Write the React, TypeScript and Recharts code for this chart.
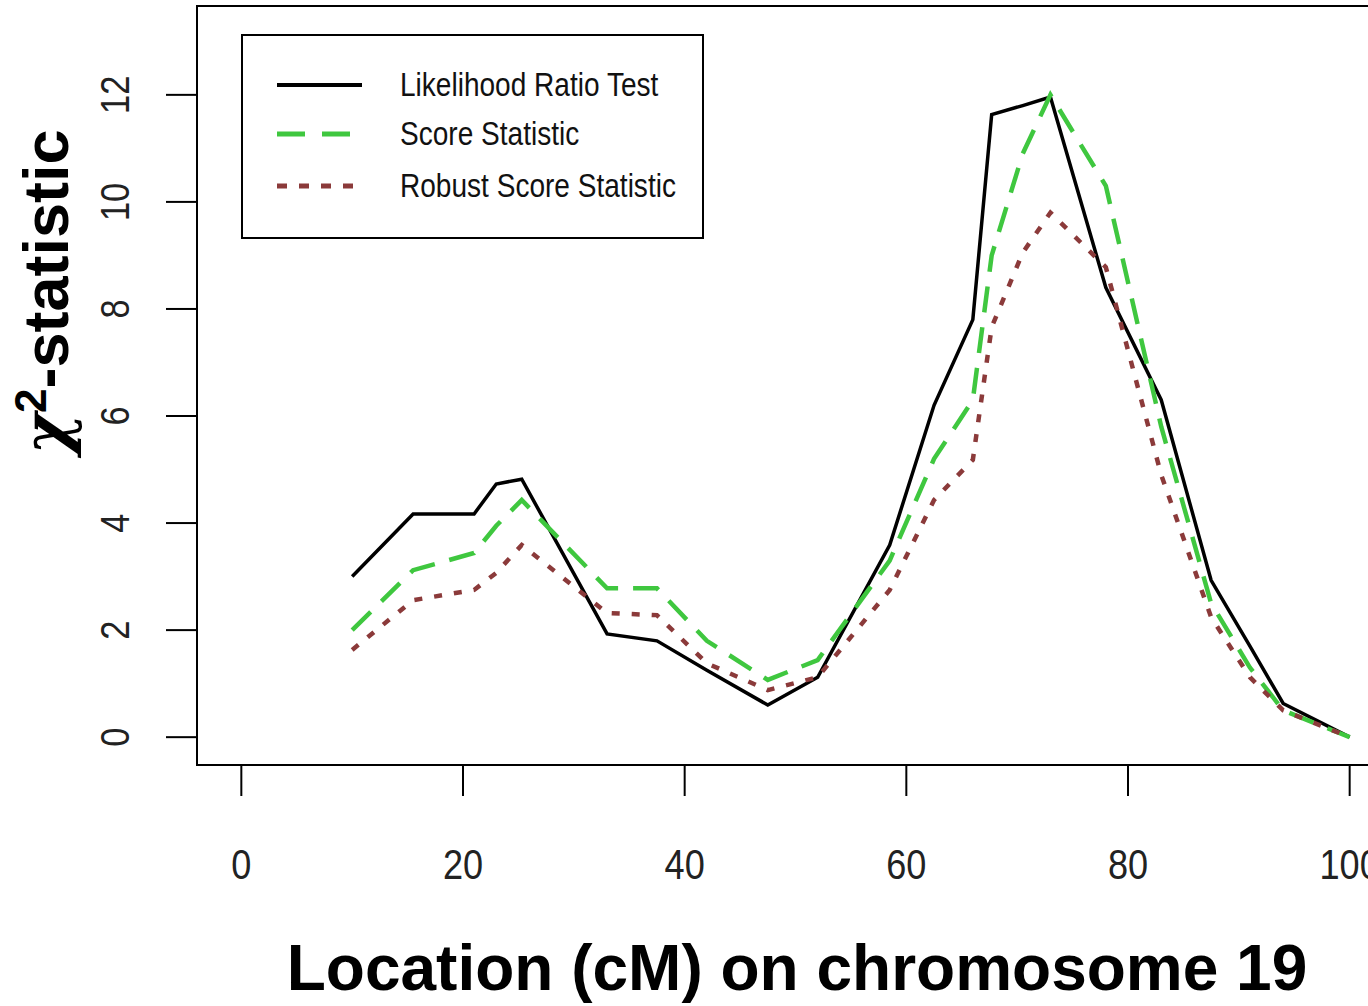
import React from "react";
import { LineChart, Line, XAxis, YAxis, ReferenceArea, Legend, Label } from "recharts";

// location on chromosome 19 (cM)
const locations = [10, 15.5, 21, 23, 25.3, 33, 37.5, 42, 47.5, 52, 58.5, 62.5, 66, 67.7, 70.5, 73, 78, 83, 87.5, 91, 94, 100];
const lrtValues = [3.0, 4.17, 4.17, 4.73, 4.82, 1.93, 1.8, 1.25, 0.6, 1.12, 3.59, 6.2, 7.8, 11.63, 11.8, 11.96, 8.4, 6.3, 2.93, 1.7, 0.63, 0];
const scoreValues = [2.0, 3.12, 3.44, 3.95, 4.43, 2.78, 2.78, 1.8, 1.07, 1.44, 3.3, 5.2, 6.3, 9.0, 10.9, 12.0, 10.3, 5.8, 2.5, 1.3, 0.5, 0];
const robustValues = [1.63, 2.56, 2.75, 3.07, 3.59, 2.32, 2.28, 1.38, 0.88, 1.12, 2.75, 4.43, 5.18, 7.66, 9.05, 9.8, 8.78, 4.9, 2.24, 1.12, 0.5, 0];

const xTicks = [0, 20, 40, 60, 80, 100];
const yTicks = [0, 2, 4, 6, 8, 10, 12];

const seriesNames = ["Likelihood Ratio Test", "Score Statistic", "Robust Score Statistic"];

const data = locations.map((x, i) => ({
  x,
  lrt: lrtValues[i],
  score: scoreValues[i],
  robust: robustValues[i],
}));

const GREEN = "#3fc73f";
const RED = "#8b3a3a";
const SANS = "'Liberation Sans', Arial, Helvetica, sans-serif";
const NARROW = 0.86; // R's device font is a condensed helvetica

const XTick = (props: any) => {
  const { x, payload } = props;
  return (
    <text
      transform={`translate(${x}, 879) scale(${NARROW}, 1)`}
      textAnchor="middle"
      fontFamily={SANS}
      fontSize={42}
      fill="#222"
    >
      {payload.value}
    </text>
  );
};

const YTick = (props: any) => {
  const { y, payload } = props;
  return (
    <text
      transform={`translate(129, ${y}) rotate(-90) scale(${NARROW}, 1)`}
      textAnchor="middle"
      fontFamily={SANS}
      fontSize={40}
      fill="#222"
    >
      {payload.value}
    </text>
  );
};

const legendRows = [
  { name: seriesNames[0], color: "#000", width: 4, dash: undefined, y: 51 },
  { name: seriesNames[1], color: GREEN, width: 5, dash: "28 17", y: 100 },
  { name: seriesNames[2], color: RED, width: 5, dash: "10 12", y: 152 },
];

const renderLegend = () => (
  <div
    style={{
      position: "relative",
      width: 463,
      height: 205,
      border: "2px solid #000",
      boxSizing: "border-box",
      background: "#fff",
    }}
  >
    {legendRows.map((r) => (
      <div key={r.name}>
        <svg width={90} height={10} style={{ position: "absolute", left: 32, top: r.y - 2 - 5 }}>
          <line x1={2} y1={5} x2={87} y2={5} stroke={r.color} strokeWidth={r.width} strokeDasharray={r.dash} />
        </svg>
        <span
          style={{
            position: "absolute",
            left: 157,
            top: r.y - 2 - 20,
            fontFamily: SANS,
            fontSize: 33,
            lineHeight: "40px",
            color: "#111",
            whiteSpace: "nowrap",
            transform: "scaleX(0.85)",
            transformOrigin: "left center",
          }}
        >
          {r.name}
        </span>
      </div>
    ))}
  </div>
);

export default function App() {
  return (
    <div
      style={{
        position: "absolute",
        left: 0,
        top: 0,
        width: 1368,
        height: 1006,
        overflow: "hidden",
        background: "#fff",
      }}
    >
      <LineChart width={1420} height={1006} data={data} margin={{ top: 6, right: 26, left: 0, bottom: 0 }}>
        <XAxis
          type="number"
          dataKey="x"
          domain={[-4, 104]}
          ticks={xTicks}
          allowDataOverflow
          height={241}
          axisLine={false}
          tickSize={31}
          tickLine={{ stroke: "#000", strokeWidth: 2 }}
          tick={<XTick />}
        >
          <Label
            content={() => (
              <text x={797} y={990} textAnchor="middle" fontFamily={SANS} fontWeight="bold" fontSize={64} fill="#000">
                Location (cM) on chromosome 19
              </text>
            )}
          />
        </XAxis>
        <YAxis
          type="number"
          domain={[-0.52, 13.66]}
          ticks={yTicks}
          allowDataOverflow
          width={197}
          axisLine={false}
          tickSize={31}
          tickLine={{ stroke: "#000", strokeWidth: 2 }}
          tick={<YTick />}
        >
          <Label
            content={() => (
              <text
                x={68}
                y={292}
                transform="rotate(-90, 68, 292)"
                textAnchor="middle"
                fontFamily={SANS}
                fontWeight="bold"
                fontSize={63}
                fill="#000"
              >
                <tspan fontFamily="'DejaVu Serif', serif" fontStyle="italic">χ</tspan>
                <tspan fontSize={44} dy={-22}>2</tspan>
                <tspan dy={22}>-statistic</tspan>
              </text>
            )}
          />
        </YAxis>
        <ReferenceArea x1={-4} x2={104} y1={-0.52} y2={13.66} fill="none" stroke="#000" strokeWidth={2} />
        <Line
          type="linear"
          dataKey="lrt"
          name={seriesNames[0]}
          stroke="#000"
          strokeWidth={3.5}
          dot={false}
          isAnimationActive={false}
        />
        <Line
          type="linear"
          dataKey="score"
          name={seriesNames[1]}
          stroke={GREEN}
          strokeWidth={4.5}
          strokeDasharray="26 15"
          dot={false}
          isAnimationActive={false}
        />
        <Line
          type="linear"
          dataKey="robust"
          name={seriesNames[2]}
          stroke={RED}
          strokeWidth={4.5}
          strokeDasharray="8 12"
          dot={false}
          isAnimationActive={false}
        />
        <Legend
          layout="vertical"
          align="center"
          verticalAlign="middle"
          content={renderLegend}
          wrapperStyle={{ left: 241, top: 34, width: 463, height: 205 }}
        />
      </LineChart>
    </div>
  );
}
